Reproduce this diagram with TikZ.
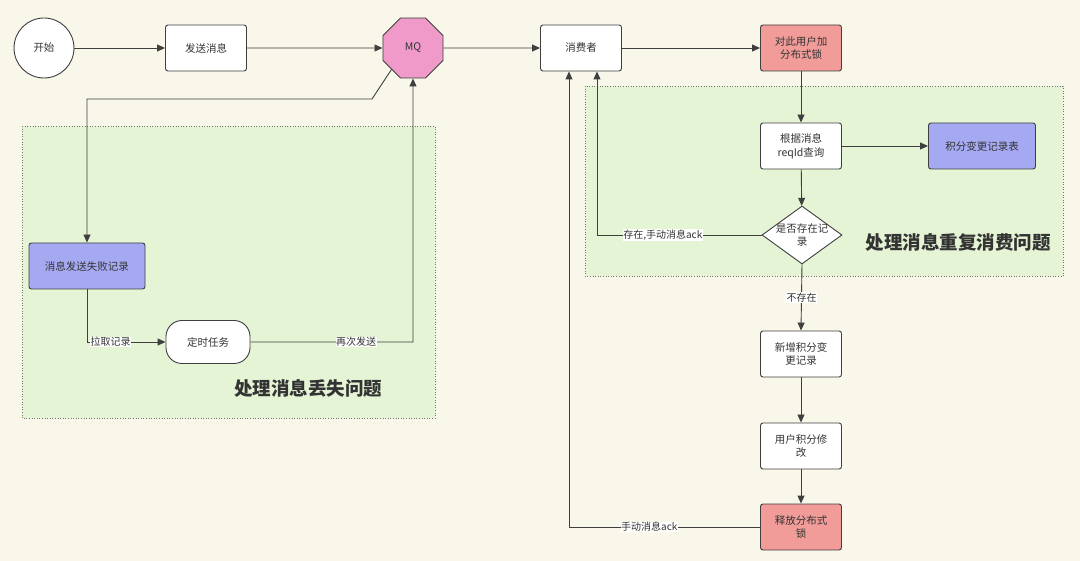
\documentclass[tikz,border=0pt]{standalone}
\usepackage{fontspec}
\setmainfont{Noto Sans CJK SC}
\usetikzlibrary{shapes.geometric,arrows.meta}
\definecolor{bg}{HTML}{F9F7E9}
\definecolor{grn}{HTML}{E4F4D4}
\definecolor{pinkc}{HTML}{EF9AC8}
\definecolor{redc}{HTML}{F19C99}
\definecolor{bluec}{HTML}{A5A9F1}
\definecolor{txt}{HTML}{333333}
\definecolor{ln}{HTML}{3F3F3F}
\tikzset{
  box/.style={draw=ln, line width=0.9pt, rounded corners=2.5pt, fill=white, minimum width=81pt, minimum height=46pt, align=center, font=\fontsize{10.5}{13.5}\selectfont, text=txt, text width=60pt, inner sep=0pt},
  conn/.style={draw=ln, line width=0.9pt, -{Triangle[length=8pt,width=7pt]}},
  lbl/.style={fill=white, inner sep=0.5pt, font=\fontsize{10}{12}\selectfont, text=txt},
  region/.style={draw=black!55, dotted, fill=grn, line width=0.6pt},
  title/.style={font=\fontsize{18.5}{21}\selectfont\bfseries, text=black!80}
}
\begin{document}
\begin{tikzpicture}[x=1pt,y=-1pt]
\fill[bg] (0,0) rectangle (1080,561);
\useasboundingbox (0,0) rectangle (1080,561);
% regions
\path[region] (22,126) rectangle (435,418);
\path[region] (585,86) rectangle (1063,276);
\node[title] (t1) at (308,388) {处理消息丢失问题};
\node[title] (t2) at (958,242) {处理消息重复消费问题};
% nodes
\node[circle, draw=ln, line width=0.9pt, fill=white, minimum size=60pt, inner sep=0pt, font=\fontsize{10.5}{13}\selectfont, text=txt] (start) at (44,48) {开始};
\node[box] (send) at (206,48) {发送消息};
\node[regular polygon, regular polygon sides=8, draw=ln, line width=0.9pt, fill=pinkc, minimum size=65pt, inner sep=0pt, font=\fontsize{10.5}{13}\selectfont, text=txt] (mq) at (413,48) {MQ};
\node[box] (cons) at (581,48) {消费者};
\node[box, fill=redc] (lock) at (801,48) {对此用户加\\分布式锁};
\node[box] (query) at (801,146) {根据消息\\reqId查询};
\node[box, fill=bluec, minimum width=107pt, text width=100pt] (table) at (982,146) {积分变更记录表};
\node[diamond, draw=ln, line width=0.9pt, fill=white, minimum width=80pt, minimum height=58pt, inner sep=0pt, aspect=1.38,
  label={[align=center, font=\fontsize{10.5}{13}\selectfont, text=txt]center:是否存在记\\录}] (dec) at (802,235) {};
\node[box] (add) at (801,354) {新增积分变\\更记录};
\node[box] (mod) at (801,446) {用户积分修\\改};
\node[box, fill=redc] (rel) at (801,527) {释放分布式\\锁};
\node[box, fill=bluec, minimum width=116pt, text width=110pt] (fail) at (87,266) {消息发送失败记录};
\node[draw=ln, line width=0.9pt, fill=white, rounded corners=16pt, minimum width=84pt, minimum height=43pt, font=\fontsize{10.5}{13}\selectfont, text=txt] (timer) at (208,342) {定时任务};
% coordinates
\coordinate (c1) at (372,99);
\coordinate (c2) at (87,99);
\coordinate (c3) at (87,342);
\coordinate (c4) at (413,342);
\coordinate (c5) at (597,235);
\coordinate (c6) at (569,527);
% connectors
\draw[conn] (start) -- (send);
\draw[conn] (send) -- (mq);
\draw[conn] (mq) -- (cons);
\draw[conn] (cons) -- (lock);
\draw[conn] (mq.225) -- (c1) -- (c2) -- (fail.north);
\draw[conn] (fail.south) -- (c3) -- node[lbl, pos=0.3] {拉取记录} (timer.west);
\draw[conn] (timer.east) -- node[lbl, pos=0.65] {再次发送} (c4) -- (mq.south);
\draw[conn] (lock) -- (query);
\draw[conn] (query) -- (table);
\draw[conn] (query) -- (dec);
\draw[conn] (dec.west) -- node[lbl, pos=0.6] {存在,手动消息ack} (c5) -- (cons.south -| c5);
\draw[conn] (dec.south) -- node[lbl, pos=0.5] {不存在} (add.north);
\draw[conn] (add) -- (mod);
\draw[conn] (mod) -- (rel);
\draw[conn] (rel.west) -- node[lbl, pos=0.58] {手动消息ack} (c6) -- (cons.south -| c6);
\end{tikzpicture}
\end{document}
